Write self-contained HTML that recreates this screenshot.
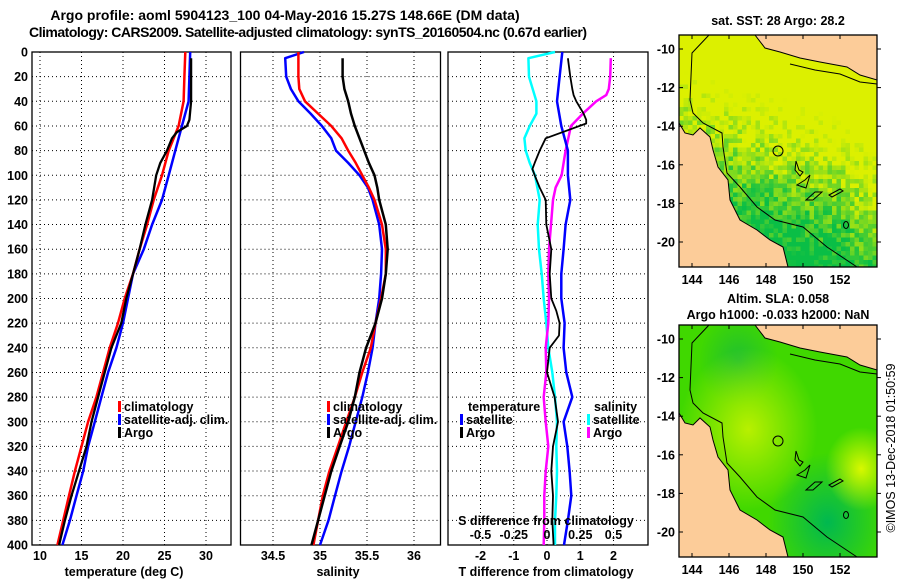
<!DOCTYPE html>
<html><head><meta charset="utf-8">
<style>
html,body{margin:0;padding:0;background:#fff;}
svg{display:block;font-family:"Liberation Sans",sans-serif;}
.t{font-weight:bold;font-size:12.5px;fill:#000;}
.ti{font-weight:bold;font-size:14px;fill:#000;}
</style></head>
<body>
<svg id="s" width="900" height="580" viewBox="0 0 900 580">
<defs>
<clipPath id="mapclip"><rect x="679" y="35" width="198" height="232"/></clipPath>
<radialGradient id="sla1" cx="0.35" cy="0.45" r="0.35"><stop offset="0" stop-color="#b8f000"/><stop offset="1" stop-color="#b8f000" stop-opacity="0"/></radialGradient>
<radialGradient id="sla2" cx="0.92" cy="0.62" r="0.18"><stop offset="0" stop-color="#d8f800"/><stop offset="1" stop-color="#d8f800" stop-opacity="0"/></radialGradient>
<radialGradient id="sla3" cx="0.75" cy="0.85" r="0.3"><stop offset="0" stop-color="#00b850"/><stop offset="1" stop-color="#00b850" stop-opacity="0"/></radialGradient>
<radialGradient id="sla4" cx="0.3" cy="0.15" r="0.2"><stop offset="0" stop-color="#20c030"/><stop offset="1" stop-color="#20c030" stop-opacity="0"/></radialGradient>
</defs>
<text class="ti" x="285" y="20" text-anchor="middle">Argo profile: aoml 5904123_100 04-May-2016 15.27S 148.66E (DM data)</text>
<text class="ti" x="308" y="37" text-anchor="middle" textLength="558">Climatology: CARS2009. Satellite-adjusted climatology: synTS_20160504.nc (0.67d earlier)</text>
<g id="g"></g>
<text x="895" y="448" font-size="12.5" text-anchor="middle" transform="rotate(-90 895 448)">©IMOS 13-Dec-2018 01:50:59</text>
</svg>
<script>
// ---- data ----
const depthT = [0,20,40,60,80,100,120,140,160,180,200,220,240,260,280,300,320,340,360,380,400];
const tempClim = [27.5,27.4,27.3,26.7,25.5,24.7,23.7,22.9,22.0,21.2,20.2,19.4,18.4,17.6,16.8,15.8,15.0,14.2,13.5,12.8,12.1];
const tempSat = [28.1,28.0,27.9,27.1,26.3,25.5,24.7,23.5,22.5,21.2,20.6,20.0,19.2,18.2,17.4,16.6,15.8,15.2,14.4,13.6,12.7];
const depthArgo = [5,20,40,55,60,65,70,80,90,100,120,140,160,180,200,220,240,260,280,300,320,340,360,380,400];
const tempArgo = [28.2,28.2,28.2,28.0,27.7,26.5,25.9,25.3,24.5,24.0,23.5,22.7,22.0,21.2,20.4,19.8,18.6,17.8,17.0,16.2,15.6,14.7,13.8,13.0,12.3];
const depthS = [0,5,20,30,40,50,60,70,80,90,100,110,120,140,160,180,200,220,240,260,280,300,320,340,360,380,400];
const salClim = [34.77,34.77,34.77,34.78,34.84,34.98,35.12,35.23,35.30,35.38,35.45,35.52,35.58,35.66,35.70,35.70,35.65,35.59,35.54,35.45,35.37,35.28,35.19,35.10,35.03,34.98,34.93];
const salSat = [34.83,34.63,34.64,34.69,34.77,34.90,35.02,35.12,35.17,35.30,35.42,35.51,35.56,35.63,35.66,35.65,35.63,35.59,35.56,35.51,35.45,35.38,35.31,35.23,35.16,35.09,35.00];
const depthSA = [5,20,30,40,50,60,70,80,90,100,110,120,140,160,180,200,220,230,240,260,280,300,320,340,360,380,400];
const salArgo = [35.24,35.24,35.26,35.30,35.33,35.37,35.42,35.47,35.52,35.58,35.61,35.63,35.70,35.72,35.70,35.66,35.59,35.54,35.49,35.42,35.37,35.30,35.21,35.12,35.05,34.98,34.91];
const dTSat = [0.46,0.38,0.30,0.43,0.63,0.63,0.70,0.56,0.50,0.43,0.43,0.53,0.50,0.58,0.76,0.50,0.61,0.68,0.73,0.63,0.51];
const depthDA = [5,20,30,35,40,50,55,58,70,80,90,95,100,110,120,140,160,180,200,210,220,230,240,260,280,300,320,340,360,380,400];
const dTArgo = [0.63,0.70,0.76,0.80,0.88,1.10,1.18,1.18,-0.04,-0.22,-0.37,-0.44,-0.37,-0.22,-0.04,-0.02,0.13,0.08,0.13,0.28,0.38,0.36,0.08,0.0,0.23,0.33,0.18,0.13,0.18,0.16,0.20];
const depthDS = [0,5,20,40,50,60,70,80,90,100,120,140,160,180,200,220,240,260,280,300,320,340,360,380,400];
const dSSat = [0.06,-0.14,-0.135,-0.08,-0.08,-0.13,-0.17,-0.16,-0.13,-0.09,-0.055,-0.07,-0.06,-0.04,-0.025,-0.005,0.01,0.04,0.06,0.075,0.07,0.075,0.07,0.06,0.06];
const depthDSA = [5,20,30,35,40,50,60,70,80,100,110,120,140,160,180,200,220,240,260,280,300,320,340,360,380,400];
const dSArgo = [0.48,0.475,0.465,0.445,0.37,0.27,0.18,0.16,0.14,0.11,0.065,0.045,0.03,0.015,0.01,0.015,0.01,-0.01,-0.005,-0.025,-0.01,0.01,-0.01,-0.02,-0.02,-0.025];
const depthTicks = [0,20,40,60,80,100,120,140,160,180,200,220,240,260,280,300,320,340,360,380,400];
const tTicks = [10,15,20,25,30];
const sTicks = [34.5,35,35.5,36];
const dtTicks = [-2,-1,0,1,2];
const dsTicks = [-0.5,-0.25,0,0.25,0.5];
const dsLabels = ['-0.5','-0.25','0','0.25','0.5'];
const lonTicks = [144,146,148,150,152];
const latTicks = [-10,-12,-14,-16,-18,-20];

const NS='http://www.w3.org/2000/svg';
const G=document.getElementById('g');
function mk(tag,at,parent){const e=document.createElementNS(NS,tag);for(const k in at)e.setAttribute(k,at[k]);(parent||G).appendChild(e);return e;}
const yTop=52,yBot=545;
const yD=d=>yTop+(yBot-yTop)*d/400;
function lin(d0,d1,r0,r1){return v=>r0+(v-d0)*(r1-r0)/(d1-d0);}
const xT=lin(10,30,40,206);
const xS=lin(34.5,36,273,414);
const xDT=lin(0,2,547,613.5);
const xDS=lin(0,0.5,547,613.5);

function panel(x0,x1,name){
  const r=mk('rect',{x:x0,y:yTop,width:x1-x0,height:yBot-yTop,fill:'none',stroke:'#000','stroke-width':1.3});
  
  
  depthTicks.forEach(d=>{
    const l=mk('line',{x1:x0,x2:x1,y1:yD(d),y2:yD(d),stroke:'#000','stroke-width':1,'stroke-dasharray':'1 3'});
    
    
  });
}
function vgrid(ticks,f,name){
  ticks.forEach(t=>{
    const l=mk('line',{x1:f(t),x2:f(t),y1:yTop,y2:yBot,stroke:'#000','stroke-width':1,'stroke-dasharray':'1 3'});
    
    
  });
}
function txt(s,x,y,name,anchor){const e=mk('text',{x:x,y:y,'text-anchor':anchor||'start',class:'t'});e.textContent=s;
  
  return e;}
function xlabels(ticks,labels,f,y,name){
  ticks.forEach((t,i)=>{
    const e=mk('text',{x:f(t),y:y,'text-anchor':'middle',class:'t'});e.textContent=labels[i];
    
    
  });
}
function line(xs,ds,fx,color,w,name){
  const pts=xs.map((v,i)=>fx(v).toFixed(1)+','+yD(ds[i]).toFixed(1)).join(' ');
  const p=mk('polyline',{points:pts,fill:'none',stroke:color,'stroke-width':w,'stroke-linejoin':'round'});
  
  
}
function legend(x,y,color,label,name){
  const r=mk('rect',{x:x,y:y-10,width:3,height:11,fill:color});
  
  
  txt(label,x+6,y,name);
}
// panel 1
panel(32,231,'temperature-panel');
vgrid(tTicks,xT,'temperature');
depthTicks.forEach(d=>txt(String(d),28,yD(d)+4.5,'depth-tick-label','end'));
xlabels(tTicks,tTicks.map(String),xT,560,'temperature-x');
txt('temperature (deg C)',124,576,'temperature-axis-title','middle');
line(tempSat,depthT,xT,'#0000ff',2.5,'temp-satellite-line');
line(tempClim,depthT,xT,'#ff0000',2.5,'temp-climatology-line');
line(tempArgo,depthArgo,xT,'#000',2.3,'temp-argo-line');
legend(118,411,'#f00','climatology','temp-legend-climatology');
legend(118,424,'#00f','satellite-adj. clim.','temp-legend-satellite');
legend(118,437,'#000','Argo','temp-legend-argo');
// panel 2
panel(240.5,440.5,'salinity-panel');
vgrid(sTicks,xS,'salinity');
xlabels(sTicks,['34.5','35','35.5','36'],xS,560,'salinity-x');
txt('salinity',338,576,'salinity-axis-title','middle');
line(salSat,depthS,xS,'#0000ff',2.5,'sal-satellite-line');
line(salClim,depthS,xS,'#ff0000',2.5,'sal-climatology-line');
line(salArgo,depthSA,xS,'#000',2.5,'sal-argo-line');
legend(327,411,'#f00','climatology','sal-legend-climatology');
legend(327,424,'#00f','satellite-adj. clim.','sal-legend-satellite');
legend(327,437,'#000','Argo','sal-legend-argo');
// panel 3
panel(448,648,'difference-panel');
vgrid(dtTicks,xDT,'tdiff');
xlabels(dtTicks,dtTicks.map(String),xDT,560,'tdiff-x');
line(dSSat,depthDS,xDS,'#00ffff',2.5,'sdiff-satellite-line');
line(dSArgo,depthDSA,xDS,'#ff00ff',2.5,'sdiff-argo-line');
line(dTSat,depthT,xDT,'#0000ff',2.5,'tdiff-satellite-line');
line(dTArgo,depthDA,xDT,'#000',1.8,'tdiff-argo-line');
xlabels(dsTicks,dsLabels,xDS,539,'sdiff-x');
txt('S difference from climatology',546,525,'sdiff-axis-title','middle');
txt('T difference from climatology',546,576,'tdiff-axis-title','middle');
txt('temperature',468,411,'tdiff-legend-title');
legend(460,424,'#00f','satellite','tdiff-legend-satellite');
legend(460,437,'#000','Argo','tdiff-legend-argo');
txt('salinity',594,411,'sdiff-legend-title');
legend(587,424,'#0ff','satellite','sdiff-legend-satellite');
legend(587,437,'#f0f','Argo','sdiff-legend-argo');

// maps
const xLon=lin(144,152,692,840);
function hash(i,j){let h=(i*374761393+j*668265263)|0;h=(h^(h>>>13))*1274126177|0;return ((h^(h>>>16))>>>0)/4294967295;}
function sstMosaic(g,x0,y0,x1,y1){
  const c=4.5;
  const mg=mk('g',{'clip-path':'url(#mapclip)'},g);
  for(let j=0;y0+j*c<y1;j++){for(let i=0;x0+i*c<x1;i++){
    const fx=i*c/(x1-x0), fy=j*c/(y1-y0);
    let t=(fy-0.38)*2.2+(0.4-fx)*0.6 - (fx>0.8?0.35*(fx-0.8)*5*fy:0);
    t+= (hash(i,j)-0.5)*0.7;
    t=Math.max(0,Math.min(1,t));
    const r=Math.round(220*(1-t)+10*t), gg=Math.round(240*(1-t)+190*t), b=Math.round(0*(1-t)+70*t);
    mk('rect',{x:x0+i*c,y:y0+j*c,width:c+0.3,height:c+0.3,fill:'rgb('+r+','+gg+','+b+')'},mg);
  }}
}
function map(oy,fill,extra,name,title1,title2,mosaic){
  const gy=lin(-10,-20,49+oy,242+oy);
  const x0=679,x1=877,y0=35+oy,y1=267+oy;
  const g=mk('g',{});
  
  
  mk('rect',{x:x0,y:y0,width:x1-x0,height:y1-y0,fill:fill},g);
  if(mosaic)sstMosaic(g,x0,y0,x1,y1);
  extra.forEach(f=>mk('rect',{x:x0,y:y0,width:x1-x0,height:y1-y0,fill:f},g));
  const P=a=>a.map(p=>p[0]+','+(p[1]+oy)).join(' ');
  const land1=mk('polygon',{points:P([[679,123],[685,133],[693,135],[700,128],[710,137],[713,150],[718,167],[728,180],[730,200],[740,220],[757,230],[770,240],[783,247],[788,267],[679,267]]),fill:'#fccc99',stroke:'#000','stroke-width':1},g);
  
  
  const land2=mk('polygon',{points:P([[755,35],[765,48],[780,52],[800,58],[820,62],[847,67],[860,75],[877,80],[877,35]]),fill:'#fccc99',stroke:'#000','stroke-width':1},g);
  
  
  mk('polyline',{points:P([[709,35],[692,53],[690,100],[693,113],[703,123],[722,133],[723,147],[727,173],[740,187],[757,207],[775,220],[803,227],[827,247],[857,267]]),fill:'none',stroke:'#000','stroke-width':1},g);
  mk('polyline',{points:P([[790,64],[815,70],[840,74],[860,82],[877,84]]),fill:'none',stroke:'#000','stroke-width':1},g);
  mk('circle',{cx:778,cy:151+oy,r:5,fill:'none',stroke:'#000','stroke-width':1},g);
  mk('polygon',{points:P([[796,161],[799,170],[803,172],[800,176],[795,170]]),fill:'none',stroke:'#000'},g);
  mk('polygon',{points:P([[797,185],[805,180],[810,175],[806,188]]),fill:'none',stroke:'#000'},g);
  mk('polygon',{points:P([[806,200],[815,192],[822,192],[813,200]]),fill:'none',stroke:'#000'},g);
  mk('polygon',{points:P([[829,195],[840,189],[843,191],[832,197]]),fill:'none',stroke:'#000'},g);
  mk('ellipse',{cx:846,cy:225+oy,rx:2.5,ry:3.5,fill:'none',stroke:'#000'},g);
  mk('rect',{x:x0,y:y0,width:x1-x0,height:y1-y0,fill:'none',stroke:'#000','stroke-width':1.3},g);
  lonTicks.forEach(l=>{mk('line',{x1:xLon(l),x2:xLon(l),y1:y0,y2:y0+4,stroke:'#000'},g);mk('line',{x1:xLon(l),x2:xLon(l),y1:y1,y2:y1-4,stroke:'#000'},g);
    txt(String(l),xLon(l),y1+17,name+'-lon-label','middle');});
  latTicks.forEach(l=>{mk('line',{x1:x0,x2:x0+4,y1:gy(l),y2:gy(l),stroke:'#000'},g);mk('line',{x1:x1,x2:x1+4,y1:gy(l),y2:gy(l),stroke:'#000'},g);
    txt(String(l),x0-4,gy(l)+4.5,name+'-lat-label','end');});
  txt(title1,778,oy+25-(title2?12:0),name+'-title','middle');
  if(title2)txt(title2,778,oy+29,name+'-subtitle','middle');
}
map(0,'#d8f000',[],'sst-map','sat. SST: 28 Argo: 28.2',null,true);
map(290,'#40d800',['url(#sla4)','url(#sla3)','url(#sla1)','url(#sla2)'],'sla-map','Altim. SLA: 0.058','Argo h1000: -0.033 h2000: NaN',false);
</script>
</body></html>
